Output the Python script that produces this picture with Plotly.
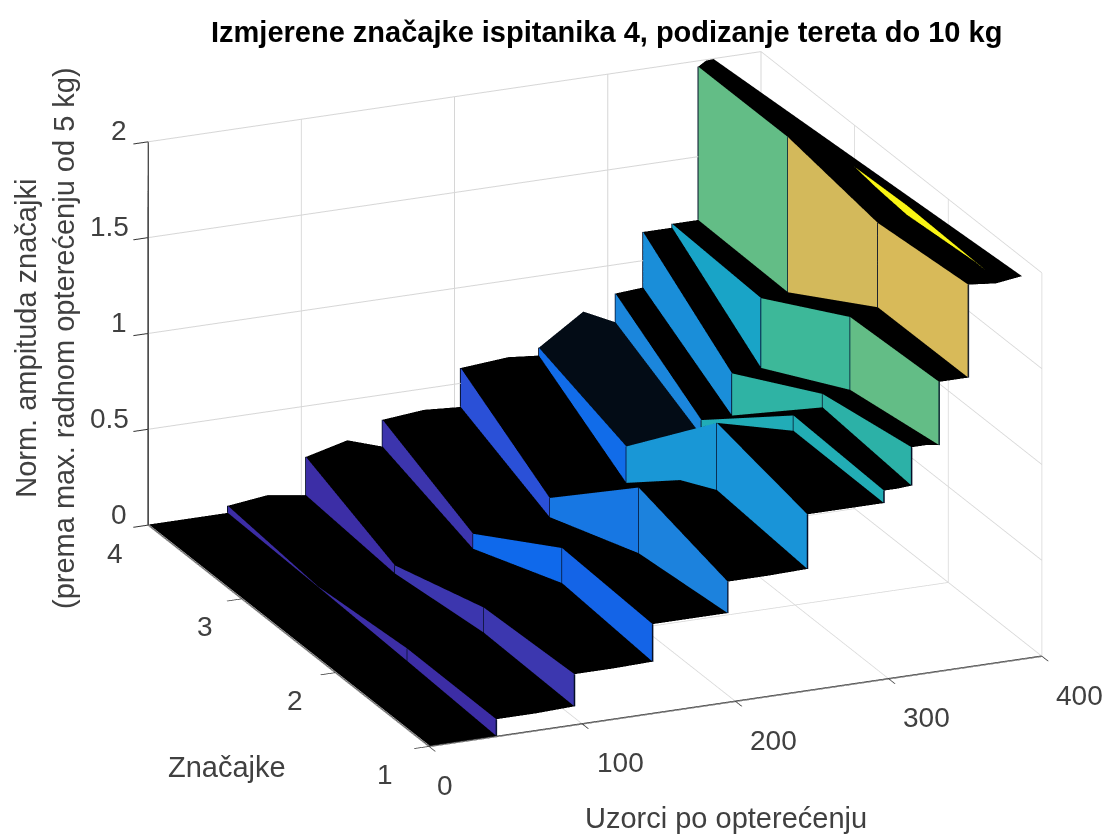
import plotly.graph_objects as go

title = "Izmjerene značajke ispitanika 4, podizanje tereta do 10 kg"
feature_rows = [1, 2, 3, 4]
x_ticks = [0, 100, 200, 300, 400]
y_ticks = [1, 2, 3, 4]
z_ticks = [0, 0.5, 1, 1.5, 2]
z_tick_text = ["0", "0.5", "1", "1.5", "2"]

# sample index of each load step, per feature
steps_1 = [44, 95, 146, 195, 247, 297, 315, 333, 352]
steps_2 = [47, 97, 148, 198, 249, 299, 318, 336, 354]
steps_3 = [50, 100, 151, 201, 251, 300, 320, 339, 356.5]
steps_4 = [52, 103, 153, 204, 255, 305, 323, 342, 359]
# amplitude just before / just after each step
before_1 = [0.003, 0.097, 0.27, 0.466, 0.635, 0.92, 0.99, 1.18, 1.51]
after_1 = [0.09, 0.265, 0.466, 0.63, 0.92, 0.985, 1.19, 1.51, 1.995]
before_2 = [0.005, 0.094, 0.293, 0.39, 0.66, 0.91, 1.01, 1.08, 1.49]
after_2 = [0.07, 0.225, 0.476, 0.733, 1.01, 0.99, 1.08, 1.46, 1.93]
before_3 = [0.003, 0.015, 0.084, 0.19, 0.31, 0.50, 0.58, 0.806, 1.18]
after_3 = [0.005, 0.057, 0.162, 0.29, 0.50, 0.58, 0.80, 1.17, 1.99]
before_4 = [0.003, 0.035, 0.23, 0.377, 0.585, 0.70, 0.86, 1.15, 1.17]
after_4 = [0.04, 0.235, 0.37, 0.58, 0.626, 0.85, 1.15, 1.17, 1.97]
# a sample within each plateau (x, amplitude), and first/last samples
plateau_x_1 = [22, 70, 120, 170, 221, 272, 306, 324, 342, 370]
plateau_z_1 = [0.003, 0.09, 0.265, 0.466, 0.63, 0.92, 0.985, 1.19, 1.51, 1.98]
plateau_x_2 = [24, 72, 122, 173, 225, 274, 308, 327, 345, 373]
plateau_z_2 = [0.003, 0.08, 0.225, 0.45, 0.74, 0.96, 0.99, 1.08, 1.47, 1.95]
plateau_x_3 = [25, 75, 125, 176, 226, 275, 310, 330, 348, 366]
plateau_z_3 = [0.003, 0.01, 0.057, 0.17, 0.30, 0.52, 0.58, 0.80, 1.17, 1.995]
plateau_x_4 = [20, 78, 130, 180, 235, 284, 314, 332, 350, 364]
plateau_z_4 = [0.003, 0.065, 0.29, 0.39, 0.60, 0.78, 0.855, 1.15, 1.17, 1.995]
last_x = [387, 381, 375, 369]
last_z = [1.998, 1.998, 1.998, 1.998]
# thin yellow peak near the end of feature 2
peak_x = [373, 373, 373, 373]
peak_y = [2.56, 2.0, 2.0, 1.17]
peak_z = [1.985, 1.94, 1.999, 1.985]

cmap_z = [0, 0.1, 0.19, 0.29, 0.45, 0.65, 0.85, 1.0, 1.1, 1.2, 1.5, 2.05]
cmap_rgb = [(60, 45, 165), (60, 55, 175), (42, 80, 215), (15, 105, 235), (28, 128, 222), (25, 150, 215),
            (25, 168, 195), (45, 178, 165), (65, 185, 150), (108, 190, 130), (215, 185, 90), (250, 250, 20)]


def colour(z):
    for i in range(len(cmap_z) - 1):
        if z <= cmap_z[i + 1]:
            t = max(0, (z - cmap_z[i]) / (cmap_z[i + 1] - cmap_z[i]))
            c = [round(a + (b - a) * t) for a, b in zip(cmap_rgb[i], cmap_rgb[i + 1])]
            return f"rgb({c[0]},{c[1]},{c[2]})"
    return "rgb(250,250,20)"


def build_row(steps, before, after, px, pz, i):
    xs, zs = [0.5], [0.003]
    for k in range(9):
        xs += [px[k], steps[k], steps[k]]
        zs += [pz[k], before[k], after[k]]
    xs += [px[9], last_x[i]]
    zs += [pz[9], last_z[i]]
    return xs, zs


rows = [
    build_row(steps_1, before_1, after_1, plateau_x_1, plateau_z_1, 0),
    build_row(steps_2, before_2, after_2, plateau_x_2, plateau_z_2, 1),
    build_row(steps_3, before_3, after_3, plateau_x_3, plateau_z_3, 2),
    build_row(steps_4, before_4, after_4, plateau_x_4, plateau_z_4, 3),
]
n = len(rows[0][0])
vx, vy, vz = [], [], []
for r, (xs, zs) in enumerate(rows):
    vx += xs
    vy += [feature_rows[r]] * n
    vz += zs

I, J, K, FC = [], [], [], []
for r in range(3):
    for c in range(n - 1):
        a, b = r * n + c, r * n + c + 1
        d, e = (r + 1) * n + c, (r + 1) * n + c + 1
        riser = c % 3 == 2 and c < 27
        if riser:
            col = colour(rows[r][1][c])
        elif r == 2 and 15 <= c < 17:
            col = "rgb(3,12,22)"
        else:
            col = "rgb(0,0,0)"
        I += [a, a]
        J += [b, e]
        K += [e, d]
        FC += [col, col]

surface = go.Mesh3d(x=vx, y=vy, z=vz, i=I, j=J, k=K, facecolor=FC, flatshading=True,
                    lighting=dict(ambient=1, diffuse=0, specular=0, roughness=1, fresnel=0),
                    hoverinfo="skip", showscale=False)

# dark outlines of the step faces
ex, ey, ez = [], [], []
for r, (xs, zs) in enumerate(rows):
    for c in range(2, 29, 3):
        ex += [xs[c], xs[c + 1], None]
        ey += [feature_rows[r], feature_rows[r], None]
        ez += [zs[c], zs[c + 1], None]
edges = go.Scatter3d(x=ex, y=ey, z=ez, mode="lines", line=dict(color="rgb(5,15,40)", width=3),
                     hoverinfo="skip", showlegend=False)

peak = go.Mesh3d(x=peak_x, y=peak_y, z=peak_z, i=[0, 1], j=[1, 3], k=[2, 2], color="rgb(250,245,20)",
                 flatshading=True, lighting=dict(ambient=1, diffuse=0, specular=0), hoverinfo="skip")

FONT = "Liberation Sans, Arial, sans-serif"
GREY = "#404040"
tick_font = dict(family=FONT, size=28, color=GREY)


def axis(rng, vals):
    return dict(range=rng, tickvals=vals, showticklabels=False,
                title=dict(text=""), showbackground=False, gridcolor="#d6d6d6", gridwidth=2,
                showline=True, linecolor="#333333", linewidth=3, ticks="outside", ticklen=16, tickwidth=2,
                tickcolor="#333333", zeroline=False, showspikes=False, autorange=False)


def tick_label(x, y, z, text, dx, dy):
    return dict(x=x, y=y, z=z, text=text, showarrow=False, xshift=dx, yshift=-dy, font=tick_font,
                xanchor="center", yanchor="middle")


tick_labels = []
for v in x_ticks:
    tick_labels.append(tick_label(v, 1, 0, str(v), 16 if v == 0 else 38, 39))
for v in y_ticks:
    tick_labels.append(tick_label(0, v, 0, str(v), -44 + (v - 1) * 3.5, 28))
for v, t in zip(z_ticks, z_tick_text):
    tick_labels.append(tick_label(0, 4, v, t, -39 if "." in t else -29, -11))

A = 1.51
fig = go.Figure([surface, edges, peak])
fig.update_layout(
    width=1107, height=834, margin=dict(l=0, r=0, t=0, b=0), paper_bgcolor="white", showlegend=False,
    scene=dict(
        domain=dict(x=[0.075, 1], y=[0.043, 1]),
        xaxis=axis([0, 400], x_ticks),
        yaxis=axis([1, 4], y_ticks),
        zaxis=axis([0, 2], z_ticks),
        aspectmode="manual",
        aspectratio=dict(x=A * 665 / 600, y=A * 705 / 600, z=A * 406 / 600),
        camera=dict(eye=dict(x=-0.373 * 1.8, y=-0.863 * 1.8, z=0.3405 * 1.8), up=dict(x=0, y=0, z=1),
                    center=dict(x=0, y=0, z=0), projection=dict(type="orthographic")),
        annotations=tick_labels,
    ),
    annotations=[
        dict(text=f"<b>{title}</b>", x=606 / 1107, y=1 - 32 / 834, xref="paper", yref="paper", showarrow=False,
             xanchor="center", yanchor="middle", font=dict(family=FONT, size=29, color="black")),
        dict(text="Norm. ampituda značajki<br>(prema max. radnom opterećenju od 5 kg)", x=45 / 1107, y=1 - 338 / 834,
             xref="paper", yref="paper", showarrow=False, textangle=-90, xanchor="center", yanchor="middle",
             font=dict(family=FONT, size=29, color=GREY)),
        dict(text="Značajke", x=227 / 1107, y=1 - 767 / 834, xref="paper", yref="paper", showarrow=False,
             xanchor="center", yanchor="middle", font=dict(family=FONT, size=29, color=GREY)),
        dict(text="Uzorci po opterećenju", x=726 / 1107, y=1 - 818 / 834, xref="paper", yref="paper", showarrow=False,
             xanchor="center", yanchor="middle", font=dict(family=FONT, size=29, color=GREY)),
    ],
)
fig.write_html("out.html", config=dict(displayModeBar=False), post_script="document.body.style.margin='0';")
